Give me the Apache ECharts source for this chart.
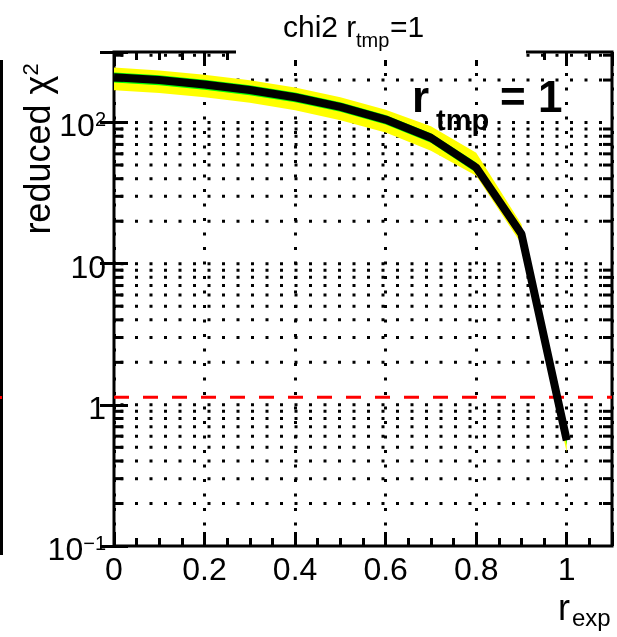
<!DOCTYPE html>
<html>
<head>
<meta charset="utf-8">
<script src="https://cdn.jsdelivr.net/npm/echarts@6/dist/echarts.min.js"></script>
<style>
  html, body { margin: 0; padding: 0; background: #fff; }
  #chart { width: 617px; height: 637px; }
</style>
</head>
<body>
<div id="chart"></div>
<script>
// Scan points in r_exp
const rExp = [0, 0.1, 0.2, 0.3, 0.4, 0.5, 0.6, 0.7, 0.8, 0.9, 1.0];
// Reduced chi2, central curve
const chi2 = [209, 200, 186, 170, 151, 129, 105, 78, 48, 16.2, 0.56];
// 1 sigma band
const chi2Lo1 = [192, 184, 171, 156, 139, 119, 97, 72, 44, 14.9, 0.52];
const chi2Hi1 = [226, 216, 201, 184, 163, 139, 113, 84, 52, 17.5, 0.60];
// 2 sigma band
const chi2Lo2 = [169, 162, 151, 138, 122, 104, 85, 63, 42, 13.8, 0.46];
const chi2Hi2 = [245, 234, 218, 199, 177, 151, 123, 94, 61, 19.0, 0.62];
// Reference level
const threshold = [1.13];

// Axis ticks and labels
const xTickLabels = ['0', '0.2', '0.4', '0.6', '0.8', '1'];
const yMajorTicks = [0.1, 1, 10, 100];
const yMajorBase = ['10', '1', '10', '10'];
const yMajorExp = ['\u22121', '', '', '2'];
const yMinorTicks = [0.2, 0.3, 0.4, 0.5, 0.6, 0.7, 0.8, 0.9,
                     2, 3, 4, 5, 6, 7, 8, 9,
                     20, 30, 40, 50, 60, 70, 80, 90,
                     200, 300];
const yGridValues = [0.2, 0.3, 0.4, 0.5, 0.6, 0.7, 0.8, 0.9, 1,
                     2, 3, 4, 5, 6, 7, 8, 9, 10,
                     20, 30, 40, 50, 60, 70, 80, 90, 100,
                     200, 300];

const X_MIN = 0, X_MAX = 1.1, Y_MIN = 0.1, Y_MAX = 316;
const FONT = "'Liberation Sans', Arial, Helvetica, sans-serif";

const chart = echarts.init(document.getElementById('chart'), null, { renderer: 'canvas' });

function xLabel(v) {
  const k = Math.round(v / 0.2);
  return (Math.abs(v - k * 0.2) < 1e-6 && k < xTickLabels.length) ? xTickLabels[k] : '';
}

const tickStyle = { color: '#000', width: 3 };

const option = {
  animation: false,
  backgroundColor: '#fff',
  grid: {
    left: 114, right: 5, top: 52, bottom: 91,
    show: true, borderColor: '#000', borderWidth: 3,
    backgroundColor: 'transparent',
    outerBoundsMode: 'none'
  },
  xAxis: [
    {
      type: 'value', min: X_MIN, max: X_MAX, interval: 0.2, position: 'bottom',
      axisLine: { show: false },
      axisTick: { show: true, inside: true, length: 14, lineStyle: tickStyle },
      minorTick: { show: true, splitNumber: 4, length: 8, lineStyle: tickStyle },
      axisLabel: {
        show: true, margin: 9, color: '#000', fontSize: 32, fontFamily: FONT,
        formatter: xLabel, showMinLabel: true, showMaxLabel: true, hideOverlap: false
      },
      splitLine: { show: true, lineStyle: { color: '#000', width: 3, type: [3, 11.5], dashOffset: 8 } }
    },
    {
      type: 'value', min: X_MIN, max: X_MAX, interval: 0.2, position: 'top',
      axisLine: { show: false },
      axisTick: { show: true, inside: true, length: 14, lineStyle: tickStyle },
      minorTick: { show: true, splitNumber: 4, length: 8, lineStyle: tickStyle },
      axisLabel: { show: false },
      splitLine: { show: false }
    }
  ],
  yAxis: [
    {
      type: 'log', logBase: 10, min: Y_MIN, max: Y_MAX, position: 'left',
      axisLine: { show: false },
      axisTick: { show: true, inside: true, length: 14, lineStyle: tickStyle },
      axisLabel: { show: false },
      splitLine: { show: false }
    },
    {
      type: 'log', logBase: 10, min: Y_MIN, max: Y_MAX, position: 'right',
      axisLine: { show: false },
      axisTick: { show: true, inside: true, length: 14, lineStyle: tickStyle },
      axisLabel: { show: false },
      splitLine: { show: false }
    }
  ],
  series: [
    // dotted horizontal grid at every decade subdivision
    {
      type: 'custom', z: 1, silent: true, clip: true,
      data: yGridValues.map(v => [X_MIN, v]),
      encode: { x: 0, y: 1 },
      renderItem: (params, api) => {
        const v = yGridValues[params.dataIndex];
        const a = api.coord([X_MIN, v]);
        const b = api.coord([X_MAX, v]);
        return {
          type: 'line',
          shape: { x1: a[0], y1: a[1], x2: b[0], y2: b[1] },
          style: { stroke: '#000', lineWidth: 3, lineDash: [3, 11.5], lineDashOffset: 8 }
        };
      }
    },
    // minor ticks of the logarithmic axis, left and right
    {
      type: 'custom', z: 6, silent: true, clip: false,
      data: yMinorTicks.map(v => [X_MIN, v]),
      encode: { x: 0, y: 1 },
      renderItem: (params, api) => {
        const v = yMinorTicks[params.dataIndex];
        const a = api.coord([X_MIN, v]);
        const b = api.coord([X_MAX, v]);
        const st = { stroke: '#000', lineWidth: 3 };
        return {
          type: 'group',
          children: [
            { type: 'line', shape: { x1: a[0], y1: a[1], x2: a[0] + 9, y2: a[1] }, style: st },
            { type: 'line', shape: { x1: b[0] - 9, y1: b[1], x2: b[0], y2: b[1] }, style: st }
          ]
        };
      }
    },
    // labels of the logarithmic axis
    {
      type: 'custom', z: 6, silent: true, clip: false,
      data: yMajorTicks.map(v => [X_MIN, v]),
      encode: { x: 0, y: 1 },
      renderItem: (params, api) => {
        const i = params.dataIndex;
        const p = api.coord([X_MIN, yMajorTicks[i]]);
        const txt = yMajorExp[i] ? '{b|' + yMajorBase[i] + '}{s|' + yMajorExp[i] + '}' : '{b|' + yMajorBase[i] + '}';
        return {
          type: 'text',
          x: p[0] - 8,
          y: p[1] + 5,
          style: {
            text: txt,
            align: 'right',
            verticalAlign: 'middle',
            fill: '#000',
            rich: {
              b: { fontSize: 32, fontFamily: FONT, lineHeight: 34, fill: '#000' },
              s: { fontSize: 20, fontFamily: FONT, verticalAlign: 'top', lineHeight: 20, fill: '#000' }
            }
          }
        };
      }
    },
    // reference level
    {
      type: 'custom', z: 2, silent: true, clip: true,
      data: threshold.map(v => [X_MIN, v]),
      encode: { x: 0, y: 1 },
      renderItem: (params, api) => {
        const v = threshold[params.dataIndex];
        const a = api.coord([X_MIN, v]);
        const b = api.coord([X_MAX, v]);
        return {
          type: 'line',
          shape: { x1: a[0], y1: a[1], x2: b[0], y2: b[1] },
          style: { stroke: '#ff0000', lineWidth: 3, lineDash: [15, 14], lineDashOffset: 0 }
        };
      }
    },
    // 2 sigma and 1 sigma bands
    {
      type: 'custom', z: 3, silent: true, clip: true,
      data: [[X_MIN, chi2[0]]],
      encode: { x: 0, y: 1 },
      renderItem: (params, api) => {
        const band = (lo, hi, color) => ({
          type: 'polygon',
          shape: {
            points: rExp.map((x, i) => api.coord([x, hi[i]]))
              .concat(rExp.map((x, i) => api.coord([x, lo[i]])).reverse())
          },
          style: { fill: color }
        });
        return {
          type: 'group',
          children: [band(chi2Lo2, chi2Hi2, '#ffff00'), band(chi2Lo1, chi2Hi1, '#00ff00')]
        };
      }
    },
    // central curve
    {
      type: 'line', z: 4, silent: true,
      data: rExp.map((x, i) => [x, chi2[i]]),
      showSymbol: false, symbol: 'none',
      lineStyle: { color: '#000', width: 8 }
    }
  ],
  graphic: [
    // title box over the top of the frame
    { type: 'rect', z: 100, shape: { x: 236, y: 0, width: 290, height: 60 }, style: { fill: '#fff' } },
    { type: 'text', z: 101, x: 283, y: 29, style: { text: 'chi2 r', font: '30px ' + FONT, fill: '#000', align: 'left', verticalAlign: 'middle' } },
    { type: 'text', z: 101, x: 356, y: 41, style: { text: 'tmp', font: '20px ' + FONT, fill: '#000', align: 'left', verticalAlign: 'middle' } },
    { type: 'text', z: 101, x: 390, y: 29, style: { text: '=1', font: '30px ' + FONT, fill: '#000', align: 'left', verticalAlign: 'middle' } },
    // in-frame annotation
    { type: 'text', z: 101, x: 412, y: 100, style: { text: 'r', font: 'bold 44px ' + FONT, fill: '#000', align: 'left', verticalAlign: 'middle' } },
    { type: 'text', z: 101, x: 436, y: 122, style: { text: 'tmp', font: 'bold 29px ' + FONT, fill: '#000', align: 'left', verticalAlign: 'middle' } },
    { type: 'text', z: 101, x: 500, y: 100, style: { text: '= 1', font: 'bold 44px ' + FONT, fill: '#000', align: 'left', verticalAlign: 'middle' } },
    // axis titles
    { type: 'text', z: 101, x: 558, y: 610, style: { text: 'r', font: '36px ' + FONT, fill: '#000', align: 'left', verticalAlign: 'middle' } },
    { type: 'text', z: 101, x: 572, y: 619, style: { text: 'exp', font: '24px ' + FONT, fill: '#000', align: 'left', verticalAlign: 'middle' } },
    {
      type: 'text', z: 101, x: 40, y: 149, rotation: Math.PI / 2,
      style: {
        text: '{b|reduced \u03c7}{s|2}',
        align: 'center', verticalAlign: 'middle', fill: '#000',
        rich: {
          b: { fontSize: 36, fontFamily: FONT, lineHeight: 38, fill: '#000' },
          s: { fontSize: 22, fontFamily: FONT, verticalAlign: 'top', lineHeight: 22, fill: '#000' }
        }
      }
    },
    // edge of the neighbouring pad
    { type: 'line', z: 100, shape: { x1: 1.5, y1: 60, x2: 1.5, y2: 555 }, style: { stroke: '#000', lineWidth: 3 } },
    { type: 'rect', z: 100, shape: { x: 0, y: 396, width: 2, height: 3 }, style: { fill: '#ff0000' } }
  ]
};

chart.setOption(option);
</script>
</body>
</html>
